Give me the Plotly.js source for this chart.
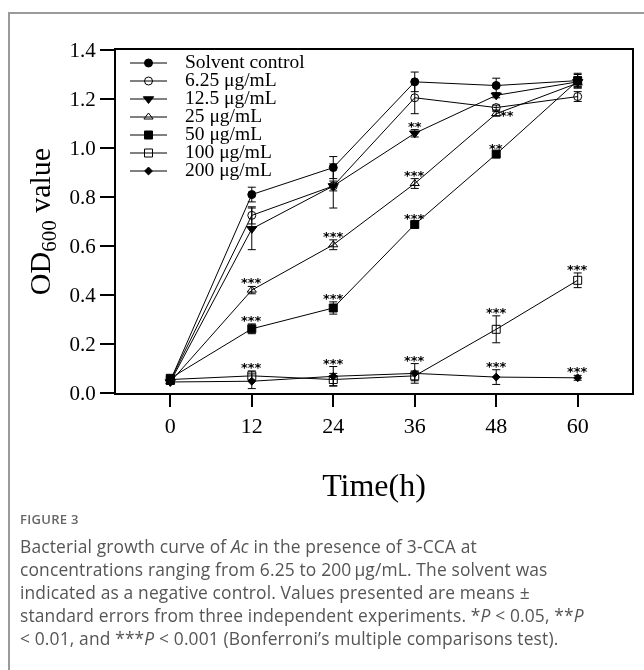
<!DOCTYPE html>
<html>
<head>
<meta charset="utf-8">
<script src="https://cdn.plot.ly/plotly-3.0.1.min.js"></script>
<style>
html,body{margin:0;padding:0;background:#fff;}
#wrap{position:relative;width:644px;height:670px;overflow:hidden;background:#fff;}
#chart{position:absolute;left:0;top:0;width:644px;height:670px;will-change:transform;}
#chart text{-webkit-font-smoothing:antialiased;}
#frame{position:absolute;left:8px;top:12px;width:700px;height:700px;border-top:2px solid #9a9a9a;border-left:2px solid #9a9a9a;pointer-events:none;}
#cap{position:absolute;left:20px;top:508px;width:624px;font-family:"Open Sans",sans-serif;color:#555;}
#cap .fig{font-size:13px;font-weight:600;letter-spacing:0.3px;line-height:22px;color:#666;}
#cap .txt{font-size:17.4px;letter-spacing:0.15px;line-height:23px;margin-top:5px;white-space:nowrap;}
</style>
</head>
<body>
<div id="wrap">
  <div id="chart"></div>
  <div id="frame"></div>
  <div id="cap">
    <div class="fig">FIGURE 3</div>
    <div class="txt">Bacterial growth curve of <i>Ac</i> in the presence of 3-CCA at<br>concentrations ranging from 6.25 to 200&#8201;μg/mL. The solvent was<br>indicated as a negative control. Values presented are means ±<br>standard errors from three independent experiments. *<i>P</i> &lt; 0.05, **<i>P</i><br>&lt; 0.01, and ***<i>P</i> &lt; 0.001 (Bonferroni’s multiple comparisons test).</div>
  </div>
</div>
<script>
// ---- data ----
const times = [0, 12, 24, 36, 48, 60];
const seriesNames = ['Solvent control', '6.25 μg/mL', '12.5 μg/mL', '25 μg/mL', '50 μg/mL', '100 μg/mL', '200 μg/mL'];

const solvent   = [0.050, 0.810, 0.920, 1.270, 1.255, 1.275];
const solventSE = [0.010, 0.030, 0.045, 0.040, 0.030, 0.025];
const c6_25     = [0.050, 0.725, 0.845, 1.205, 1.165, 1.210];
const c6_25SE   = [0.010, 0.035, 0.090, 0.065, 0.010, 0.020];
const c12_5     = [0.045, 0.670, 0.845, 1.060, 1.215, 1.270];
const c12_5SE   = [0.010, 0.085, 0.020, 0.015, 0.010, 0.020];
const c25       = [0.045, 0.420, 0.605, 0.855, 1.140, 1.265];
const c25SE     = [0.010, 0.015, 0.020, 0.020, 0.010, 0.020];
const c50       = [0.060, 0.262, 0.347, 0.688, 0.975, 1.275];
const c50SE     = [0.010, 0.020, 0.025, 0.010, 0.010, 0.030];
const c100      = [0.055, 0.070, 0.055, 0.070, 0.260, 0.460];
const c100SE    = [0.010, 0.020, 0.025, 0.020, 0.055, 0.030];
const c200      = [0.045, 0.048, 0.068, 0.080, 0.065, 0.062];
const c200SE    = [0.005, 0.030, 0.040, 0.040, 0.030, 0.010];

// significance labels
const sigSolvent = ['', '', '', '', '', ''];
const sig6_25    = ['', '', '', '', '', ''];
const sig12_5    = ['', '', '', '**', '', ''];
const sig25      = ['', '***', '***', '***', '**', ''];
const sig50      = ['', '***', '***', '***', '**', ''];
const sig100     = ['', '***', '', '', '***', '***'];
const sig200     = ['', '', '***', '***', '***', '***'];

const xTickVals = [0, 12, 24, 36, 48, 60];
const yTickVals = [0, 0.2, 0.4, 0.6, 0.8, 1.0, 1.2, 1.4];

// ---- styles ----
const values = [solvent, c6_25, c12_5, c25, c50, c100, c200];
const errors = [solventSE, c6_25SE, c12_5SE, c25SE, c50SE, c100SE, c200SE];
const sigs   = [sigSolvent, sig6_25, sig12_5, sig25, sig50, sig100, sig200];
const symbols = ['circle', 'circle-open', 'triangle-down', 'triangle-up-open', 'square', 'square-open', 'diamond'];
const sizes   = [8, 8, 9, 8, 8, 8, 6];
const serif = 'Liberation Serif, Times New Roman, serif';

const traces = [];
values.forEach((v, k) => {
  traces.push({
    x: times, y: v, type: 'scatter', mode: 'lines+markers',
    name: seriesNames[k], showlegend: false,
    line: {color: '#000', width: 1},
    marker: {symbol: symbols[k], size: sizes[k], color: '#000', line: {color: '#000', width: 1}},
    error_y: {type: 'data', array: errors[k], visible: true, color: '#000', thickness: 1, width: 4},
    cliponaxis: false
  });
});

// significance annotations
const starFont = {family: 'DejaVu Sans, sans-serif', size: 13, color: '#000000', weight: 'bold'};
const annotations = [];
sigs.forEach((s, k) => {
  s.forEach((lab, i) => {
    if (!lab) return;
    const side = (k === 3 && times[i] === 48);
    annotations.push(side ? {
      x: times[i], y: values[k][i], xref: 'x', yref: 'y', text: lab, showarrow: false,
      xanchor: 'left', yanchor: 'middle', xshift: 2, yshift: -2, font: starFont
    } : {
      x: times[i], y: values[k][i] + errors[k][i], xref: 'x', yref: 'y', text: lab, showarrow: false,
      xanchor: 'center', yanchor: 'bottom', yshift: -6, font: starFont
    });
  });
});

// manual legend in an overlay subplot measured in pixels
const plotL = 116, plotR = 632, plotT = 50, plotB = 393;
const legLineX0 = 130, legLineX1 = 167, legTextX = 185, legY0 = 63, legDY = 18;
seriesNames.forEach((nm, k) => {
  const yy = legY0 + k * legDY;
  traces.push({x: [legLineX0, legLineX1], y: [yy, yy], xaxis: 'x2', yaxis: 'y2', mode: 'lines',
    line: {color: '#000', width: 1}, showlegend: false, hoverinfo: 'skip'});
  traces.push({x: [(legLineX0 + legLineX1) / 2], y: [yy], xaxis: 'x2', yaxis: 'y2', mode: 'markers',
    marker: {symbol: symbols[k], size: sizes[k], color: '#000', line: {color: '#000', width: 1}},
    showlegend: false, hoverinfo: 'skip'});
  traces.push({x: [legTextX], y: [yy], xaxis: 'x2', yaxis: 'y2', mode: 'text', text: [nm],
    textposition: 'middle right', textfont: {family: serif, size: 19.5, color: '#000'},
    showlegend: false, hoverinfo: 'skip', cliponaxis: false});
});

const layout = {
  width: 644, height: 670,
  margin: {l: plotL, r: 644 - plotR, t: plotT, b: 670 - plotB},
  paper_bgcolor: 'rgba(0,0,0,0)', plot_bgcolor: 'rgba(0,0,0,0)',
  showlegend: false,
  font: {family: serif, color: '#000'},
  xaxis: {
    range: [-8, 68], tickvals: xTickVals, ticktext: xTickVals.map(String),
    showline: true, linewidth: 2, linecolor: '#000', mirror: true,
    ticks: 'outside', ticklen: 12, tickwidth: 2, tickcolor: '#000',
    showgrid: false, zeroline: false,
    tickfont: {family: serif, size: 22, color: '#000'},
    title: {text: 'Time(h)', font: {family: serif, size: 32, color: '#000'}, standoff: 36}
  },
  yaxis: {
    range: [0, 1.4], tickvals: yTickVals, ticktext: yTickVals.map(v => v.toFixed(1)),
    showline: true, linewidth: 2, linecolor: '#000', mirror: true,
    ticks: 'outside', ticklen: 14, tickwidth: 2, tickcolor: '#000',
    showgrid: false, zeroline: false,
    tickfont: {family: serif, size: 21, color: '#000'},
    title: {text: 'OD<sub>600</sub> value', font: {family: serif, size: 30, color: '#000'}, standoff: 10}
  },
  xaxis2: {overlaying: 'x', range: [plotL, plotR], visible: false, fixedrange: true},
  yaxis2: {overlaying: 'y', range: [plotB, plotT], visible: false, fixedrange: true},
  annotations: annotations
};

Plotly.newPlot('chart', traces, layout, {displayModeBar: false, staticPlot: true});
</script>
</body>
</html>
